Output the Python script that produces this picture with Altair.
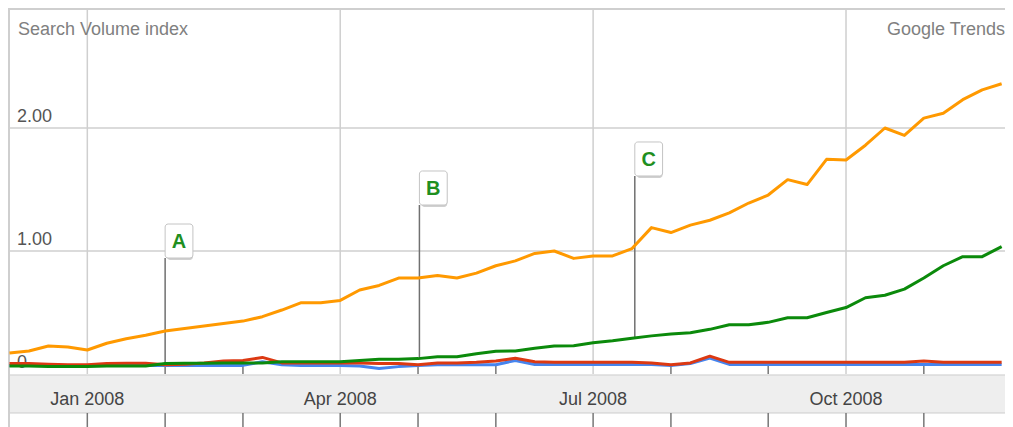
import altair as alt
import pandas as pd

# ---- data ----
weeks = pd.date_range("2007-12-09", periods=52, freq="7D").strftime("%Y-%m-%d").tolist()

orange = [0.17, 0.187, 0.228, 0.22, 0.195, 0.25, 0.287, 0.315, 0.35, 0.37, 0.39, 0.41, 0.43,
          0.466, 0.52, 0.58, 0.58, 0.598, 0.683, 0.72, 0.78, 0.78, 0.80, 0.78, 0.82, 0.88,
          0.92, 0.98, 1.00, 0.94, 0.96, 0.96, 1.02, 1.19, 1.15, 1.21, 1.25, 1.31, 1.39,
          1.455, 1.58, 1.54, 1.745, 1.74, 1.86, 2.00, 1.94, 2.08, 2.12, 2.23, 2.31, 2.36]
green = [0.065, 0.065, 0.06, 0.06, 0.06, 0.065, 0.065, 0.065, 0.085, 0.087, 0.087, 0.09, 0.09,
         0.09, 0.10, 0.10, 0.10, 0.10, 0.11, 0.12, 0.12, 0.125, 0.14, 0.14, 0.165, 0.185,
         0.187, 0.21, 0.228, 0.23, 0.254, 0.27, 0.29, 0.31, 0.325, 0.336, 0.363, 0.40, 0.40,
         0.42, 0.457, 0.457, 0.50, 0.54, 0.62, 0.64, 0.69, 0.78, 0.88, 0.954, 0.954, 1.035]
red = [0.085, 0.085, 0.08, 0.075, 0.075, 0.085, 0.087, 0.087, 0.075, 0.08, 0.09, 0.105, 0.11,
       0.135, 0.09, 0.09, 0.09, 0.09, 0.09, 0.085, 0.085, 0.075, 0.09, 0.09, 0.095, 0.105,
       0.128, 0.10, 0.095, 0.095, 0.095, 0.095, 0.095, 0.09, 0.075, 0.09, 0.145, 0.095, 0.095,
       0.095, 0.095, 0.095, 0.095, 0.095, 0.095, 0.095, 0.095, 0.105, 0.095, 0.095, 0.095, 0.095]
blue = [0.07] * 13 + [0.10, 0.075, 0.07, 0.07, 0.07, 0.065, 0.045, 0.06, 0.07,
                      0.075, 0.075, 0.075, 0.075, 0.11] + [0.078] * 7 + [0.07, 0.085, 0.13] + [0.078] * 15

tick_dates = ["2008-01-06", "2008-02-03", "2008-03-02", "2008-04-06", "2008-05-04", "2008-06-01",
              "2008-07-06", "2008-08-03", "2008-09-07", "2008-10-05", "2008-11-02"]
quarter_dates = ["2008-01-06", "2008-04-06", "2008-07-06", "2008-10-05"]
quarter_labels = ["Jan 2008", "Apr 2008", "Jul 2008", "Oct 2008"]
y_ticks = [0, 1, 2]
y_tick_labels = ["0", "1.00", "2.00"]

flag_letters = ["A", "B", "C"]
flag_dates = ["2008-02-03T00:00:00Z", "2008-05-04T12:00:00Z", "2008-07-21T00:00:00Z"]
flag_bottoms = [0.943, 1.374, 1.61]   # value where each flag box sits
flag_pole_ends = [0.085, 0.125, 0.29]  # value where each pole meets the green line

# ---- layout ----
W, H = 997, 419
Y_TOP, Y_BOT = 2.9756, -0.4309
BAND_TOP, BAND_BOT = -0.008, -0.317
PX = 1 / 123.0  # one pixel in value units

xs = alt.Scale(type="utc",
               domain=[alt.DateTime(year=2007, month=12, date=8, hours=11, minutes=3, utc=True),
                       alt.DateTime(year=2008, month=12, date=1, hours=5, minutes=0, utc=True)])
ys = alt.Scale(domain=[Y_BOT, Y_TOP], nice=False, zero=False)

FONT = "Liberation Sans"

series_df = pd.DataFrame({"date": weeks, "orange": orange, "green": green, "red": red, "blue": blue})

base = alt.Chart(series_df)

def line(field, color):
    return base.mark_line(color=color, strokeWidth=3, strokeJoin="round", interpolate="linear").encode(
        x=alt.X("date:T", scale=xs, axis=None),
        y=alt.Y(f"{field}:Q", scale=ys, axis=None),
    )

# gridlines
hgrid_df = pd.DataFrame({"v": [1, 2]})
hgrid = alt.Chart(hgrid_df).mark_rule(color="#cfcfcf", strokeWidth=1.5).encode(
    y=alt.Y("v:Q", scale=ys, axis=None), x=alt.value(0), x2=alt.value(W))

vgrid_df = pd.DataFrame({"date": quarter_dates, "top": [Y_TOP] * 4, "bot": [0.0] * 4})
vgrid = alt.Chart(vgrid_df).mark_rule(color="#cfcfcf", strokeWidth=1.5).encode(
    x=alt.X("date:T", scale=xs, axis=None),
    y=alt.Y("top:Q", scale=ys, axis=None), y2="bot:Q")

top_border = alt.Chart(hgrid_df.head(1)).mark_rule(color="#cfcfcf", strokeWidth=2).encode(
    x=alt.value(0), x2=alt.value(W), y=alt.value(1))
left_border = alt.Chart(hgrid_df.head(1)).mark_rule(color="#cfcfcf", strokeWidth=2).encode(
    x=alt.value(1), y=alt.value(0), y2=alt.value(H))

# band with x labels
band_df = pd.DataFrame({"t": [BAND_TOP], "b": [BAND_BOT]})
band = alt.Chart(band_df).mark_rect(color="#eeeeee", stroke="#cccccc", strokeWidth=1).encode(
    x=alt.value(0), x2=alt.value(W + 2),
    y=alt.Y("t:Q", scale=ys, axis=None), y2="b:Q")

minor_dates = [d for d in tick_dates if d not in quarter_dates]
inner_ticks_df = pd.DataFrame({"date": minor_dates, "a": [0.0] * len(minor_dates),
                               "b": [10 * PX] * len(minor_dates)})
inner_ticks = alt.Chart(inner_ticks_df).mark_rule(color="#777777", strokeWidth=1.5).encode(
    x=alt.X("date:T", scale=xs, axis=None),
    y=alt.Y("a:Q", scale=ys, axis=None), y2="b:Q")

outer_ticks_df = pd.DataFrame({"date": tick_dates, "a": [BAND_BOT] * len(tick_dates),
                               "b": [Y_BOT] * len(tick_dates)})
outer_ticks = alt.Chart(outer_ticks_df).mark_rule(color="#777777", strokeWidth=1.5).encode(
    x=alt.X("date:T", scale=xs, axis=None),
    y=alt.Y("a:Q", scale=ys, axis=None), y2="b:Q")

xlab_df = pd.DataFrame({"date": quarter_dates, "label": quarter_labels, "v": [-0.252] * 4})
xlabels = alt.Chart(xlab_df).mark_text(font=FONT, fontSize=18, color="#444444", align="center",
                                       baseline="alphabetic").encode(
    x=alt.X("date:T", scale=xs, axis=None), y=alt.Y("v:Q", scale=ys, axis=None), text="label:N")

ylab_df = pd.DataFrame({"v": y_ticks, "label": y_tick_labels})
ylabels = alt.Chart(ylab_df).mark_text(font=FONT, fontSize=18, color="#555555", align="left",
                                       baseline="alphabetic", dy=-6).encode(
    x=alt.value(9), y=alt.Y("v:Q", scale=ys, axis=None), text="label:N")

head_df = pd.DataFrame({"label": ["Search Volume index"]})
head_left = alt.Chart(head_df).mark_text(font=FONT, fontSize=18, color="#808080", align="left",
                                         baseline="alphabetic").encode(
    x=alt.value(10), y=alt.value(27), text="label:N")
head_right = alt.Chart(pd.DataFrame({"label": ["Google Trends"]})).mark_text(
    font=FONT, fontSize=18, color="#808080", align="right", baseline="alphabetic").encode(
    x=alt.value(W), y=alt.value(27), text="label:N")

# flags
flag_df = pd.DataFrame({
    "letter": flag_letters,
    "date": flag_dates,
    "date2": [(pd.Timestamp(d) + pd.Timedelta(days=10)).strftime("%Y-%m-%dT%H:%M:%SZ") for d in flag_dates],
    "datec": [(pd.Timestamp(d) + pd.Timedelta(days=5)).strftime("%Y-%m-%dT%H:%M:%SZ") for d in flag_dates],
    "bottom": flag_bottoms,
    "top": [b + 34 * PX for b in flag_bottoms],
    "mid": [b + 17 * PX for b in flag_bottoms],
    "pole_end": flag_pole_ends,
})
fbase = alt.Chart(flag_df)
poles = fbase.mark_rule(color="#707070", strokeWidth=1.5).encode(
    x=alt.X("date:T", scale=xs, axis=None),
    y=alt.Y("bottom:Q", scale=ys, axis=None), y2="pole_end:Q")
shadow = fbase.mark_rect(color="#b0b0b0", opacity=0.6, cornerRadius=3, xOffset=2, yOffset=2).encode(
    x=alt.X("date:T", scale=xs, axis=None), x2="date2:T",
    y=alt.Y("bottom:Q", scale=ys, axis=None), y2="top:Q")
boxes = fbase.mark_rect(color="#ffffff", stroke="#c4c4c4", strokeWidth=1, cornerRadius=3).encode(
    x=alt.X("date:T", scale=xs, axis=None), x2="date2:T",
    y=alt.Y("bottom:Q", scale=ys, axis=None), y2="top:Q")
letters = fbase.mark_text(font=FONT, fontSize=20, fontWeight="bold", color="#1f8f1f",
                          align="center", baseline="middle", dy=1).encode(
    x=alt.X("datec:T", scale=xs, axis=None), y=alt.Y("mid:Q", scale=ys, axis=None), text="letter:N")

chart = alt.layer(
    hgrid, vgrid, top_border, band, inner_ticks, outer_ticks, left_border,
    xlabels, ylabels, head_left, head_right,
    poles,
    line("blue", "#4684ee"), line("red", "#dc3912"), line("orange", "#ff9900"), line("green", "#0b8a0b"),
    shadow, boxes, letters,
).properties(
    width=W, height=H, padding=0, background="white",
    autosize=alt.AutoSizeParams(type="none"),
).configure_view(stroke=None)

chart.save("out.html", embed_options={"renderer": "svg", "actions": False})
